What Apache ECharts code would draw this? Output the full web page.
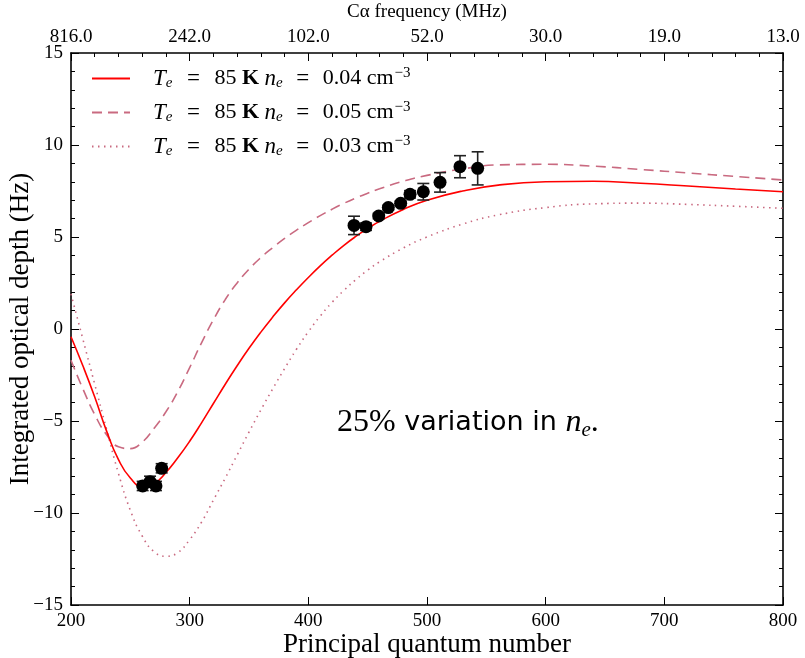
<!DOCTYPE html>
<html>
<head>
<meta charset="utf-8">
<script src="https://cdn.jsdelivr.net/npm/echarts@6/dist/echarts.min.js"></script>
<style>html,body{margin:0;padding:0;background:#fff}#c{width:805px;height:658px}</style>
</head>
<body>
<div id="c"></div>
<script>
// Principal quantum number grid for the model curves
const nGrid = [200,210,220,230,240,250,260,270,280,290,300,310,320,330,340,350,360,370,380,390,400,410,420,430,440,450,460,480,500,530,560,600,640,680,720,760,800];
// Te = 85 K, ne = 0.04 cm^-3 (solid)
const curve004 = [-0.42,-2.0,-3.7,-5.55,-7.1,-8.1,-8.55,-8.4,-7.8,-7.0,-6.1,-5.1,-4.05,-3.0,-2.0,-1.05,-0.17,0.65,1.42,2.13,2.8,3.43,4.01,4.55,5.03,5.46,5.85,6.5,7.0,7.5,7.82,8.0,8.03,7.92,7.77,7.61,7.46];
// Te = 85 K, ne = 0.05 cm^-3 (dashed)
const curve005 = [-1.7,-3.25,-4.65,-5.75,-6.4,-6.5,-6.15,-5.4,-4.5,-3.4,-2.1,-0.75,0.5,1.6,2.5,3.25,3.88,4.42,4.92,5.37,5.78,6.16,6.51,6.83,7.12,7.38,7.62,8.03,8.35,8.7,8.92,8.95,8.85,8.67,8.48,8.29,8.1];
// Te = 85 K, ne = 0.03 cm^-3 (dotted)
const curve003 = [1.9,-0.55,-3.0,-5.45,-7.85,-9.85,-11.25,-12.1,-12.35,-12.15,-11.45,-10.5,-9.3,-8.1,-6.85,-5.6,-4.4,-3.25,-2.15,-1.1,-0.15,0.7,1.45,2.1,2.68,3.2,3.65,4.4,5.0,5.7,6.2,6.6,6.8,6.84,6.77,6.67,6.56];
// Observed points
const obsN   = [260.4,266.6,271.6,276.4,438.5,448.6,459.3,467.4,477.8,485.7,496.9,511,527.8,542.7];
const obsTau = [-8.53,-8.3,-8.53,-7.57,5.63,5.56,6.14,6.6,6.83,7.32,7.46,7.97,8.82,8.73];
const obsErr = [0.25,0.3,0.25,0.25,0.5,0.2,0.15,0.12,0.12,0.2,0.45,0.53,0.6,0.9];
// Top axis tick labels (C-alpha frequency, MHz)
const topLabels = ['816.0','242.0','102.0','52.0','30.0','19.0','13.0'];
const legendNames = ['n004','n005','n003'];
const legendNe = {n004:'0.04', n005:'0.05', n003:'0.03'};

const serif = 'Liberation Serif';
const pink = '#c96a80';
const pair = (xs, ys) => xs.map((x,i)=>[x, ys[i]]);
const fmtNum = v => (v < 0 ? '\u2212' + Math.abs(v) : String(v));

const chart = echarts.init(document.getElementById('c'), null, {renderer:'canvas'});
const axisCommon = {
  type:'value', min:200, max:800, interval:100, nameMoveOverlap:false,
  axisLine:{show:true, onZero:false, lineStyle:{color:'#000', width:1.6}},
  axisTick:{show:true, inside:true, length:8, lineStyle:{color:'#000', width:1}},
  splitLine:{show:false}
};
const yCommon = {
  type:'value', min:-15, max:15, interval:5, nameMoveOverlap:false,
  axisLine:{show:true, onZero:false, lineStyle:{color:'#000', width:1.6}},
  axisTick:{show:true, inside:true, length:8, lineStyle:{color:'#000', width:1}},
  minorTick:{show:true, splitNumber:5, length:4, lineStyle:{color:'#000', width:1}},
  splitLine:{show:false}
};
const option = {
  backgroundColor:'#fff',
  animation:false,
  grid:{left:71, right:22, top:53, bottom:53, containLabel:false, outerBoundsMode:'none'},
  xAxis:[
    Object.assign({}, axisCommon, {
      position:'bottom',
      name:'Principal quantum number', nameLocation:'middle', nameGap:26,
      nameTextStyle:{fontFamily:serif, fontSize:27, color:'#000'},
      axisLabel:{fontFamily:serif, fontSize:19, color:'#000', margin:7}
    }),
    Object.assign({}, axisCommon, {
      position:'top',
      name:'C\u03b1 frequency (MHz)', nameLocation:'middle', nameGap:31,
      nameTextStyle:{fontFamily:serif, fontSize:19, color:'#000'},
      minorTick:{show:true, splitNumber:5, length:4, lineStyle:{color:'#000', width:1}},
      axisLabel:{fontFamily:serif, fontSize:19, color:'#000', margin:6,
        formatter: v => topLabels[Math.round((v-200)/100)]}
    })
  ],
  yAxis:[
    Object.assign({}, yCommon, {
      position:'left',
      name:'Integrated optical depth (Hz)', nameLocation:'middle', nameGap:37,
      nameTextStyle:{fontFamily:serif, fontSize:27, color:'#000'},
      axisLabel:{fontFamily:serif, fontSize:19, color:'#000', margin:8, formatter: fmtNum}
    }),
    Object.assign({}, yCommon, {position:'right', axisLabel:{show:false}})
  ],
  legend:{
    left:86, top:61, orient:'vertical', itemWidth:38, itemHeight:14, itemGap:9,
    data:legendNames,
    itemStyle:{opacity:0},
    formatter: name => '{i|T}{s|e}{eq|=}{t|85 }{b|K}{t| }{i|n}{s|e}{eq2|=}{t|' + legendNe[name] + ' cm}{p|\u22123}',
    textStyle:{fontFamily:serif, fontSize:21, color:'#000', padding:[0,0,0,18],
      rich:{
        i:{fontFamily:serif, fontSize:23, fontStyle:'italic', color:'#000'},
        s:{fontFamily:serif, fontSize:15, fontStyle:'italic', color:'#000', padding:[10,0,0,0]},
        eq:{fontFamily:serif, fontSize:23, color:'#000', width:42, align:'center'},
        eq2:{fontFamily:serif, fontSize:23, color:'#000', width:40, align:'center'},
        t:{fontFamily:serif, fontSize:22, color:'#000'},
        b:{fontFamily:serif, fontSize:22, fontWeight:'bold', color:'#000'},
        p:{fontFamily:serif, fontSize:15, color:'#000', padding:[0,0,10,1]}
      }}
  },
  graphic:[{
    type:'text', left:337, top:407,
    style:{
      text:'{a|25%}{b| variation in }{c|n}{d|e}{a|.}',
      rich:{
        a:{fontFamily:serif, fontSize:32, fill:'#000'},
        b:{fontFamily:'DejaVu Sans', fontSize:27, fill:'#000'},
        c:{fontFamily:serif, fontSize:32, fontStyle:'italic', fill:'#000'},
        d:{fontFamily:serif, fontSize:21, fontStyle:'italic', fill:'#000', padding:[14,0,0,0]}
      }
    }
  }],
  series:[
    {name:'n004', type:'line', data:pair(nGrid, curve004), smooth:0.5, symbol:'none',
     lineStyle:{color:'#ff0000', width:1.6}, itemStyle:{color:'#ff0000'}, z:3},
    {name:'n005', type:'line', data:pair(nGrid, curve005), smooth:0.5, symbol:'none',
     lineStyle:{color:pink, width:1.6, type:[10,6]}, itemStyle:{color:pink}, z:2},
    {name:'n003', type:'line', data:pair(nGrid, curve003), smooth:0.5, symbol:'none',
     lineStyle:{color:pink, width:1.6, type:[1.5,4.5]}, itemStyle:{color:pink}, z:2},
    {name:'err', type:'custom', z:5,
     data: obsN.map((n,i)=>[n, obsTau[i], obsErr[i]]),
     renderItem:(params, api)=>{
       const x = api.value(0), y = api.value(1), e = api.value(2);
       const top = api.coord([x, y+e]), bot = api.coord([x, y-e]);
       const cw = 6;
       const st = {stroke:'#222', lineWidth:1.6};
       return {type:'group', children:[
         {type:'line', shape:{x1:top[0], y1:top[1], x2:bot[0], y2:bot[1]}, style:st},
         {type:'line', shape:{x1:top[0]-cw, y1:top[1], x2:top[0]+cw, y2:top[1]}, style:st},
         {type:'line', shape:{x1:bot[0]-cw, y1:bot[1], x2:bot[0]+cw, y2:bot[1]}, style:st}
       ]};
     }},
    {name:'obs', type:'scatter', data:pair(obsN, obsTau), symbol:'circle', symbolSize:13,
     itemStyle:{color:'#000', opacity:1}, z:6}
  ]
};
chart.setOption(option);
</script>
</body>
</html>
